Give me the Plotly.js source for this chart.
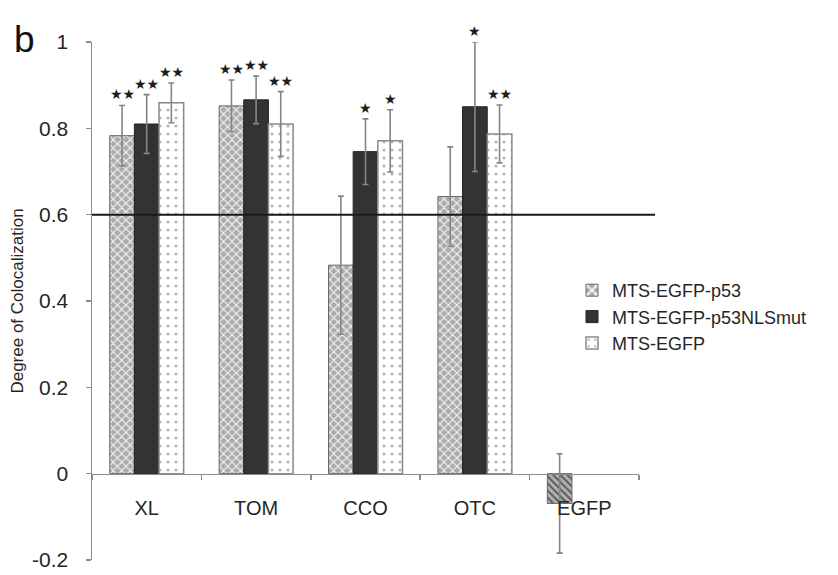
<!DOCTYPE html>
<html>
<head>
<meta charset="utf-8">
<script src="https://cdn.plot.ly/plotly-3.0.1.min.js"></script>
<style>html,body{margin:0;padding:0;background:#fff;}#chart{width:838px;height:575px;}</style>
</head>
<body>
<div id="chart"></div>
<script>
// ---- data ----
const categories = ["XL", "TOM", "CCO", "OTC", "EGFP"];
const seriesNames = ["MTS-EGFP-p53", "MTS-EGFP-p53NLSmut", "MTS-EGFP"];
const p53 = [0.783, 0.852, 0.483, 0.642, -0.069];
const p53Err = [0.070, 0.060, 0.160, 0.115, 0.115];
const nlsmut = [0.810, 0.866, 0.746, 0.850, null];
const nlsmutErr = [0.068, 0.055, 0.076, 0.150, null];
const egfp = [0.859, 0.810, 0.771, 0.787, null];
const egfpErr = [0.046, 0.075, 0.072, 0.067, null];
const p53Stars = ["★★", "★★", "", "", ""];
const nlsmutStars = ["★★", "★★", "★", "★", ""];
const egfpStars = ["★★", "★★", "★", "★★", ""];
const thresholdValue = 0.6;
const yTickVals = [-0.2, 0, 0.2, 0.4, 0.6, 0.8, 1];
const yTickText = ["-0.2", "0", "0.2", "0.4", "0.6", "0.8", "1"];

// ---- layout constants ----
const W = 838, H = 575;
const margin = {l: 92, r: 199, t: 42, b: 15, autoexpand: false};
const bargap = 0.324;
const plotW = W - margin.l - margin.r;
const plotH = H - margin.t - margin.b;
const barW = plotW / categories.length * (1 - bargap) / 3;
const textColor = "#262626";
const font = "Liberation Sans, Arial, sans-serif";

function errObj(arr) {
  return {type: "data", array: arr, visible: true, color: "#858585", thickness: 1.6, width: 3};
}

const traces = [
  {
    type: "bar", name: seriesNames[0], x: categories, y: p53, error_y: errObj(p53Err),
    marker: {
      color: "#b3b3b3",
      line: {color: "#666666", width: 1},
      pattern: {
        shape: ["x", "x", "x", "x", "\\"],
        fgcolor: ["#f4f4f4", "#f4f4f4", "#f4f4f4", "#f4f4f4", "#555555"],
        bgcolor: ["#ababab", "#ababab", "#ababab", "#ababab", "#b0b0b0"],
        size: [6, 6, 6, 6, 5], solidity: [0.35, 0.35, 0.35, 0.35, 0.35], fillmode: "replace"
      }
    }
  },
  {
    type: "bar", name: seriesNames[1], x: categories, y: nlsmut, error_y: errObj(nlsmutErr),
    marker: {color: "#333333", line: {color: "#222222", width: 1}}
  },
  {
    type: "bar", name: seriesNames[2], x: categories, y: egfp, error_y: errObj(egfpErr),
    marker: {
      color: "#ffffff",
      line: {color: "#8a8a8a", width: 1.5},
      pattern: {shape: ".", fgcolor: "#b5b5b5", bgcolor: "#ffffff", size: 8, solidity: 0.12, fillmode: "replace"}
    }
  }
];

// star annotations
const annotations = [];
const starSets = [[p53, p53Err, p53Stars], [nlsmut, nlsmutErr, nlsmutStars], [egfp, egfpErr, egfpStars]];
starSets.forEach((set, si) => {
  const [vals, errs, stars] = set;
  categories.forEach((c, ci) => {
    if (stars[ci]) {
      annotations.push({
        x: c, y: vals[ci] + errs[ci], xref: "x", yref: "y",
        text: stars[ci], showarrow: false,
        xshift: (si - 1) * barW, yshift: 11, yanchor: "middle", xanchor: "center",
        font: {family: "DejaVu Sans", size: 14, color: "#1e1e1e"}
      });
    }
  });
});
// panel label
annotations.push({
  xref: "paper", yref: "paper", x: (12 - margin.l) / plotW, y: 1 + (margin.t - 17) / plotH,
  xanchor: "left", yanchor: "top", text: "b", showarrow: false,
  font: {family: font, size: 37, color: "#111111"}
});

const layout = {
  width: W, height: H,
  margin: margin,
  paper_bgcolor: "#ffffff", plot_bgcolor: "#ffffff",
  font: {family: font, color: textColor},
  barmode: "group", bargap: bargap, bargroupgap: 0,
  showlegend: true,
  legend: {
    x: (572 - margin.l) / plotW, y: (H - margin.b - 272) / plotH,
    xanchor: "left", yanchor: "top",
    font: {family: font, size: 18, color: textColor},
    bgcolor: "rgba(0,0,0,0)", itemwidth: 30, tracegroupgap: 0
  },
  xaxis: {
    type: "category",
    anchor: "free", position: 0.2 / 1.2,
    showline: true, linecolor: "#8c8c8c", linewidth: 1.5,
    ticks: "outside", tickson: "boundaries", ticklen: 5, tickcolor: "#8c8c8c", tickwidth: 1.5,
    showgrid: false, zeroline: false,
    tickfont: {family: font, size: 20, color: textColor},
    ticklabelstandoff: 16,
    fixedrange: true
  },
  yaxis: {
    range: [-0.2, 1],
    tickvals: yTickVals, ticktext: yTickText,
    showline: true, linecolor: "#8c8c8c", linewidth: 1.5,
    ticks: "outside", ticklen: 5, tickcolor: "#8c8c8c", tickwidth: 1.5,
    showgrid: false, zeroline: false,
    tickfont: {family: font, size: 21, color: textColor},
    ticklabelstandoff: 13,
    title: {text: "Degree of Colocalization", font: {family: font, size: 17, color: textColor}, standoff: 4},
    fixedrange: true
  },
  shapes: [{
    type: "line", xref: "paper", yref: "y", x0: 0, x1: (655 - margin.l) / plotW, y0: thresholdValue, y1: thresholdValue,
    line: {color: "#1a1a1a", width: 2}, layer: "above"
  }],
  annotations: annotations
};

Plotly.newPlot("chart", traces, layout, {displayModeBar: false, staticPlot: true});
</script>
</body>
</html>
